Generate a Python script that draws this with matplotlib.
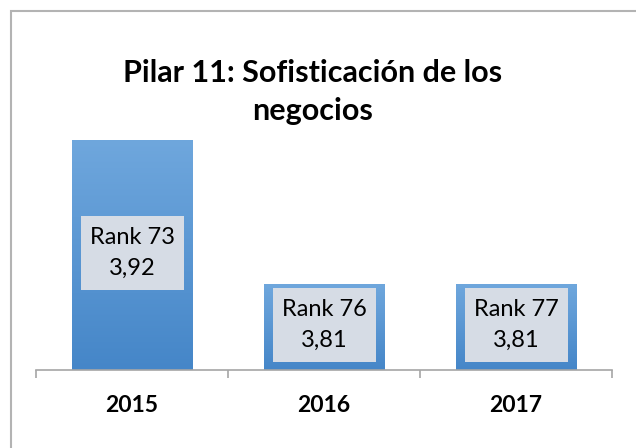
import numpy as np
import matplotlib
matplotlib.use('Agg')
import matplotlib.pyplot as plt
from matplotlib.patches import Rectangle

anios = ['2015', '2016', '2017']
valores = [3.92, 3.81, 3.81]
ranks = [73, 76, 77]
titulo = 'Pilar 11: Sofisticación de los\nnegocios'

W, H = 636, 448
fig = plt.figure(figsize=(W / 100, H / 100), dpi=100)
plt.rcParams['font.family'] = ['Lato', 'DejaVu Sans']

# borde del grafico (solo se ven arriba e izquierda)
fig.patches.append(Rectangle((11 / W, -0.1), 1.2, (H - 11) / H + 0.1, transform=fig.transFigure,
                             fill=False, edgecolor='#b3b3b3', linewidth=1.5))

ymin, ymax = 3.745, 4.0
alto_px = 370 - 36.2
ax = fig.add_axes([36 / W, (H - 370) / H, 576 / W, alto_px / H])
ax.set_xlim(-0.5, len(anios) - 0.5)
ax.set_ylim(ymin, ymax)
ax.patch.set_visible(False)
for s in ['top', 'right', 'left']:
    ax.spines[s].set_visible(False)
ax.spines['bottom'].set_color('#a6a6a6')
ax.spines['bottom'].set_linewidth(1.2)
ax.set_yticks([])
ax.set_xticks(np.arange(-0.5, len(anios)))
ax.set_xticklabels([])
ax.tick_params(axis='x', length=6, color='#a6a6a6', width=1.2)

ancho = 0.63
# caja de etiqueta: 103 x 74 px
caja_w = 103 / 192
caja_h = 74 / alto_px * (ymax - ymin)
grad = np.linspace(0, 1, 256).reshape(-1, 1)
cmap = matplotlib.colors.LinearSegmentedColormap.from_list('az', ['#4586c8', '#6fa7dd'])
for i, v in enumerate(valores):
    ax.imshow(grad, extent=(i - ancho / 2, i + ancho / 2, ymin, v), origin='lower',
              cmap=cmap, aspect='auto', zorder=2)
    yc = (v + ymin) / 2 + 0.002
    ax.add_patch(Rectangle((i - caja_w / 2, yc - caja_h / 2), caja_w, caja_h,
                           facecolor='#d6dce5', edgecolor='none', zorder=3))
    ax.text(i, yc, 'Rank %d\n%s' % (ranks[i], ('%.2f' % v).replace('.', ',')),
            ha='center', va='center', fontsize=17, linespacing=1.6, zorder=4)
    ax.text(i, -0.105, anios[i], transform=ax.get_xaxis_transform(), ha='center', va='center',
            fontsize=16.5, fontweight='bold')
ax.set_xlim(-0.5, len(anios) - 0.5)
ax.set_ylim(ymin, ymax)

fig.text(313 / W, 1 - 92 / H, titulo, ha='center', va='center', fontsize=22,
         fontweight='bold', linespacing=1.4)

fig.savefig('out.png', dpi=100)
